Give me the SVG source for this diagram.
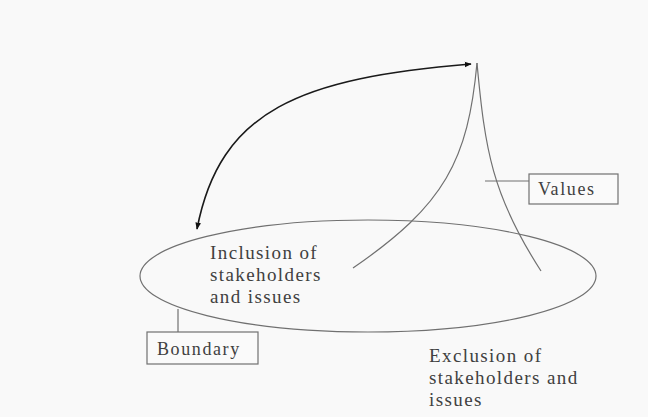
<svg xmlns="http://www.w3.org/2000/svg" width="648" height="417" viewBox="0 0 648 417">
<style>
  .thin { fill: none; stroke: #707070; stroke-width: 1.2; }
  .box { fill: #fafafa; stroke: #707070; stroke-width: 1.2; }
  .lbl { font-family: "Liberation Serif", "Times New Roman", serif; fill: #404040; }
  .big { font-size: 19px; letter-spacing: 1.4px; }
  .small { font-size: 18px; letter-spacing: 1.6px; }
</style>
<defs>
  <marker id="ah" viewBox="0 0 10 10" refX="9" refY="5" markerWidth="7" markerHeight="7" orient="auto-start-reverse" markerUnits="userSpaceOnUse">
    <path d="M0,1 L10,5 L0,9 Z" fill="#111"/>
  </marker>
</defs>
<rect x="0" y="0" width="648" height="417" fill="#f9f9f9"/>

<g id="connectors">
  <path d="M197,229 C220,110 300,78 471,64" fill="none" stroke="#1a1a1a" stroke-width="1.6" marker-start="url(#ah)" marker-end="url(#ah)"/>
  <path class="thin" d="M178,309 L178,332"/>
  <path class="thin" d="M485,181 L529,181"/>
</g>

<g id="boundary-ellipse">
  <ellipse cx="368" cy="276" rx="228" ry="56" class="thin"/>
</g>

<g id="values-peak">
  <path class="thin" d="M477,63 C468,160 445,205 353,268"/>
  <path class="thin" d="M477,63 C485,150 492,195 541,271"/>
</g>

<g id="values">
  <rect class="box" x="529" y="174" width="89" height="30"/>
  <text class="lbl small" x="538" y="195">Values</text>
</g>

<g id="boundary">
  <rect class="box" x="147" y="332" width="111" height="32"/>
  <text class="lbl small" x="157" y="355">Boundary</text>
</g>

<g id="inclusion">
  <text class="lbl big" x="210" y="259">Inclusion of</text>
  <text class="lbl big" x="210" y="281">stakeholders</text>
  <text class="lbl big" x="210" y="303">and issues</text>
</g>

<g id="exclusion">
  <text class="lbl big" x="429" y="362">Exclusion of</text>
  <text class="lbl big" x="429" y="384">stakeholders and</text>
  <text class="lbl big" x="429" y="406">issues</text>
</g>
</svg>
